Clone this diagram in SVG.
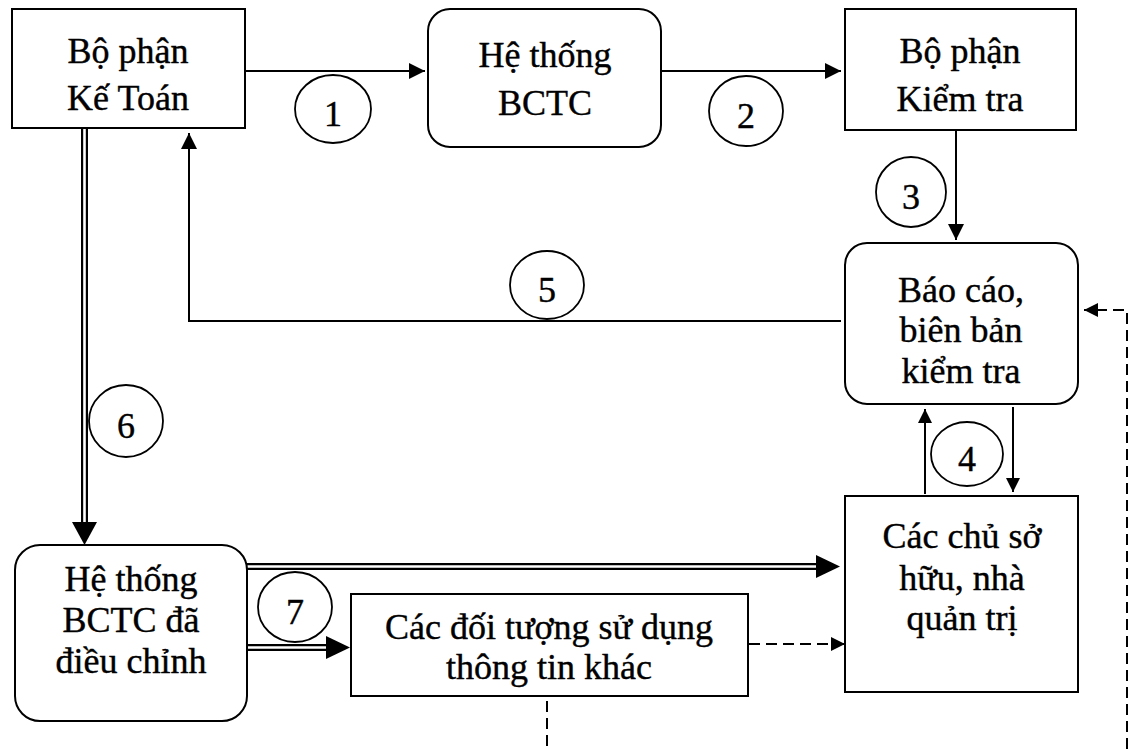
<svg xmlns="http://www.w3.org/2000/svg" width="1132" height="749" viewBox="0 0 1132 749">
  <style>
    .box { fill: #ffffff; stroke: #000000; stroke-width: 2; }
    .lbl { font-family: 'Liberation Serif', 'Times New Roman', 'DejaVu Serif', serif; font-size: 36px; fill: #000000; stroke: #000000; stroke-width: 0.4; text-anchor: middle; }
    .tag { fill: none; stroke: #000000; stroke-width: 1.8; }
    .ln { fill: none; stroke: #000000; stroke-width: 2; }
    .dash { fill: none; stroke: #000000; stroke-width: 2; stroke-dasharray: 11 6; }
    .dbl-outer { fill: none; stroke: #000000; stroke-width: 7; }
    .dbl-inner { fill: none; stroke: #ffffff; stroke-width: 2.6; }
    .head { fill: #000000; stroke: none; }
  </style>
  <defs>
    <marker id="arr" markerUnits="userSpaceOnUse" markerWidth="18" markerHeight="18" refX="16" refY="8" orient="auto">
      <path d="M0,0 L16,8 L0,16 Z" fill="#000000"/>
    </marker>
    <marker id="arr-sm" markerUnits="userSpaceOnUse" markerWidth="16" markerHeight="16" refX="14" refY="7" orient="auto">
      <path d="M0,0 L14,7 L0,14 Z" fill="#000000"/>
    </marker>
  </defs>

  <rect width="1132" height="749" fill="#ffffff"/>

  <!-- connectors -->
  <g id="connectors">
    <!-- 1: accounting to report system -->
    <line class="ln" x1="245" y1="71" x2="425" y2="71" marker-end="url(#arr)"/>
    <!-- 2: report system to audit -->
    <line class="ln" x1="661" y1="71" x2="841" y2="71" marker-end="url(#arr)"/>
    <!-- 3: audit to audit report -->
    <line class="ln" x1="956" y1="128" x2="956" y2="240" marker-end="url(#arr)"/>
    <!-- 5: audit report back to accounting -->
    <path class="ln" d="M841,321 H189 V133" marker-end="url(#arr)"/>
    <!-- 4: exchange between audit report and owners -->
    <line class="ln" x1="925" y1="494" x2="925" y2="409" marker-end="url(#arr-sm)"/>
    <line class="ln" x1="1013" y1="407" x2="1013" y2="492" marker-end="url(#arr-sm)"/>

    <!-- 6: double line from accounting to adjusted system -->
    <line class="dbl-outer" x1="84.5" y1="128" x2="84.5" y2="524"/>
    <line class="dbl-inner" x1="84.5" y1="127" x2="84.5" y2="526"/>
    <polygon class="head" points="72,522 97,522 84.5,545"/>

    <!-- adjusted system to owners -->
    <line class="dbl-outer" x1="247" y1="566.5" x2="818" y2="566.5"/>
    <line class="dbl-inner" x1="246" y1="566.5" x2="820" y2="566.5"/>
    <polygon class="head" points="816,555 816,578 840,566.5"/>

    <!-- 7: adjusted system to other users -->
    <line class="dbl-outer" x1="247" y1="647.5" x2="328" y2="647.5"/>
    <line class="dbl-inner" x1="246" y1="647.5" x2="330" y2="647.5"/>
    <polygon class="head" points="326,636 326,659 350,647.5"/>

    <!-- dashed: other users to owners -->
    <line class="dash" x1="749" y1="644" x2="845" y2="644" marker-end="url(#arr-sm)"/>
    <!-- dashed: other users downward -->
    <line class="dash" x1="547" y1="701" x2="547" y2="749"/>
    <!-- dashed: feedback into audit report -->
    <path class="dash" d="M1127,749 V310 H1084" marker-end="url(#arr-sm)"/>
  </g>

  <!-- step markers -->
  <g id="steps">
    <ellipse class="tag" cx="333" cy="109" rx="38" ry="34"/>
    <text class="lbl" x="333" y="126">1</text>
    <ellipse class="tag" cx="746" cy="111" rx="37" ry="35"/>
    <text class="lbl" x="746" y="128">2</text>
    <ellipse class="tag" cx="911" cy="192" rx="35" ry="35"/>
    <text class="lbl" x="911" y="209">3</text>
    <ellipse class="tag" cx="967" cy="454" rx="36" ry="32"/>
    <text class="lbl" x="967" y="471">4</text>
    <ellipse class="tag" cx="547" cy="285" rx="37" ry="34"/>
    <text class="lbl" x="547" y="302">5</text>
    <ellipse class="tag" cx="126" cy="421" rx="37" ry="36"/>
    <text class="lbl" x="126" y="438">6</text>
    <ellipse class="tag" cx="295" cy="607" rx="37" ry="35"/>
    <text class="lbl" x="295" y="624">7</text>
  </g>

  <g id="ke-toan">
    <rect class="box" x="12" y="9" width="233" height="119"/>
    <text class="lbl" x="128" y="63">Bộ phận</text>
    <text class="lbl" x="128" y="110">Kế Toán</text>
  </g>

  <g id="he-thong-bctc">
    <rect class="box" x="428" y="9" width="233" height="138" rx="22" ry="22"/>
    <text class="lbl" x="545" y="67">Hệ thống</text>
    <text class="lbl" x="545" y="115">BCTC</text>
  </g>

  <g id="kiem-tra">
    <rect class="box" x="845" y="9" width="231" height="121"/>
    <text class="lbl" x="960" y="63">Bộ phận</text>
    <text class="lbl" x="960" y="111">Kiểm tra</text>
  </g>

  <g id="bao-cao">
    <rect class="box" x="845" y="243" width="233" height="161" rx="22" ry="22"/>
    <text class="lbl" x="961" y="302">Báo cáo,</text>
    <text class="lbl" x="961" y="342">biên bản</text>
    <text class="lbl" x="961" y="383">kiểm tra</text>
  </g>

  <g id="chu-so-huu">
    <rect class="box" x="845" y="496" width="233" height="196"/>
    <text class="lbl" x="962" y="548">Các chủ sở</text>
    <text class="lbl" x="962" y="590">hữu, nhà</text>
    <text class="lbl" x="962" y="630">quản trị</text>
  </g>

  <g id="bctc-dieu-chinh">
    <rect class="box" x="15" y="545" width="232" height="176" rx="25" ry="25"/>
    <text class="lbl" x="131" y="591">Hệ thống</text>
    <text class="lbl" x="131" y="632">BCTC đã</text>
    <text class="lbl" x="131" y="673">điều chỉnh</text>
  </g>

  <g id="doi-tuong-khac">
    <rect class="box" x="351" y="594" width="397" height="102"/>
    <text class="lbl" x="549" y="639">Các đối tượng sử dụng</text>
    <text class="lbl" x="549" y="679">thông tin khác</text>
  </g>
</svg>
